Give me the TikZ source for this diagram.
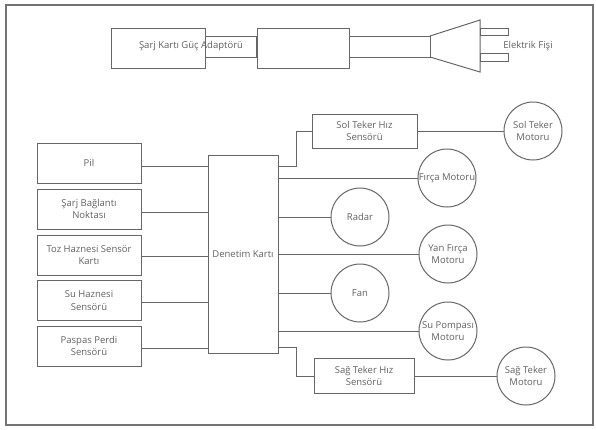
\documentclass[tikz,border=0pt]{standalone}
\usepackage{fontspec}
\setmainfont{Open Sans}
\begin{document}
\begin{tikzpicture}[x=1pt,y=-1pt,
  ln/.style={draw=black!60, line width=1pt},
  txt/.style={text=black!62, font=\fontsize{9.5}{12.5}\selectfont, align=center, inner sep=0pt},
  box/.style={ln, rectangle, txt},
  circ/.style={ln, circle, minimum size=58pt, txt},
]
\useasboundingbox (0,0) rectangle (596,429);
\draw[draw=black!55, line width=1.1pt] (6,5) rectangle (593,425);
% adapter
\node[box, minimum width=94pt, minimum height=40pt] (ad1) at (158,48) {};
\node[box, minimum width=92pt, minimum height=40pt] (ad2) at (303,48) {};
\draw[ln] (ad1.east |- 0,36) rectangle (ad2.west |- 0,57);
\coordinate (pl) at (430,46);
\draw[ln] (ad2.east |- 0,36) rectangle (pl |- 0,57);
\draw[ln] (430,36) -- (480,20) -- (480,72) -- (430,57);
\draw[ln] (480,28) rectangle (508,35);
\draw[ln] (480,53) rectangle (508,61);
\node[txt] (adt) at (191,46) {Şarj Kartı Güç Adaptörü};
\node[txt] (ef) at (528,46) {Elektrik Fişi};
% left boxes
\node[box, minimum width=104pt, minimum height=40pt] (pil) at (89,163) {Pil};
\node[box, minimum width=104pt, minimum height=40pt] (sarj) at (89,209) {Şarj Bağlantı\\Noktası};
\node[box, minimum width=104pt, minimum height=40pt] (toz) at (89,255) {Toz Haznesi Sensör\\Kartı};
\node[box, minimum width=104pt, minimum height=40pt] (su) at (89,300.5) {Su Haznesi\\Sensörü};
\node[box, minimum width=104pt, minimum height=40pt] (pas) at (89,346) {Paspas Perdi\\Sensörü};
% central
\node[box, minimum width=70pt, minimum height=198pt] (den) at (243,254) {Denetim Kartı};
\draw[ln] (pil.east |- 0,166) -- (den.west |- 0,166);
\draw[ln] (sarj.east |- 0,212) -- (den.west |- 0,212);
\draw[ln] (toz.east |- 0,256) -- (den.west |- 0,256);
\draw[ln] (su.east |- 0,302) -- (den.west |- 0,302);
\draw[ln] (pas.east |- 0,348) -- (den.west |- 0,348);
% right side
\node[box, minimum width=105pt, minimum height=34pt] (solh) at (364.5,131) {Sol Teker Hız\\Sensörü};
\node[circ] (solm) at (533,131) {Sol Teker\\Motoru};
\node[circ] (firca) at (447,178) {Fırça Motoru};
\node[circ] (radar) at (360,217) {Radar};
\node[circ] (yan) at (448,254) {Yan Fırça\\Motoru};
\node[circ] (fan) at (360,293) {Fan};
\node[circ] (pompa) at (448,331) {Su Pompası\\Motoru};
\node[box, minimum width=100pt, minimum height=35pt] (sagh) at (364,376) {Sağ Teker Hız\\Sensörü};
\node[circ] (sagm) at (526,376) {Sağ Teker\\Motoru};
\draw[ln] (den.east |- 0,166) -- (296,166) -- (296,131) -- (solh.west);
\draw[ln] (solh.east) -- (solm.west);
\draw[ln] (den.east |- 0,178) -- (firca.west);
\draw[ln] (den.east |- 0,217) -- (radar.west);
\draw[ln] (den.east |- 0,254) -- (yan.west);
\draw[ln] (den.east |- 0,293) -- (fan.west);
\draw[ln] (den.east |- 0,331) -- (pompa.west);
\draw[ln] (den.east |- 0,347) -- (296,347) -- (296,376) -- (sagh.west);
\draw[ln] (sagh.east) -- (sagm.west);
\end{tikzpicture}
\end{document}
